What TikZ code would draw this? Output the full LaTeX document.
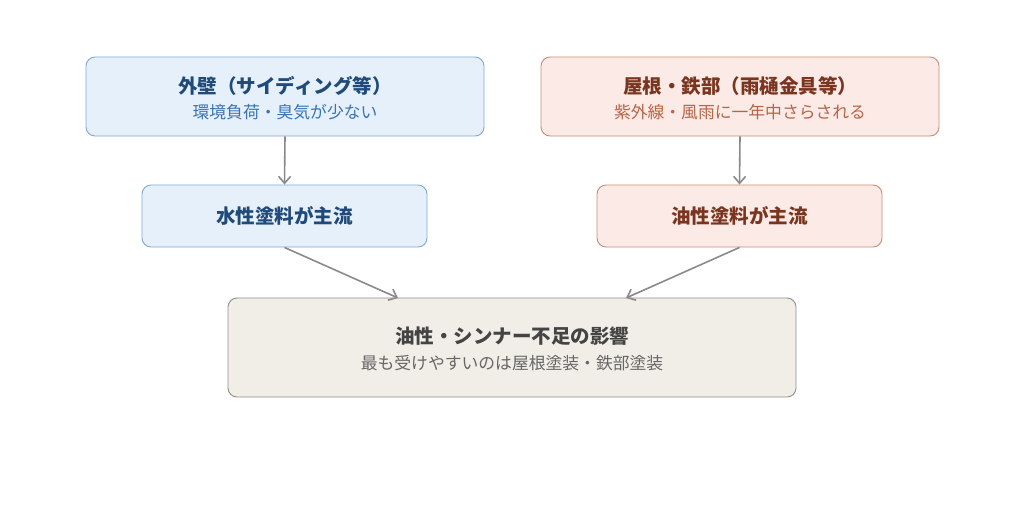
\documentclass[tikz,border=0pt]{standalone}
\usepackage{fontspec}
\setmainfont{Noto Sans CJK JP}
\usetikzlibrary{arrows.meta}
\definecolor{bluefill}{HTML}{E6F0FA}
\definecolor{blueline}{HTML}{80A9D6}
\definecolor{bluetitle}{HTML}{1F4A7A}
\definecolor{bluesub}{HTML}{3B73B2}
\definecolor{redfill}{HTML}{FBEAE5}
\definecolor{redline}{HTML}{C98B79}
\definecolor{redtitle}{HTML}{7A3520}
\definecolor{redsub}{HTML}{B5654A}
\definecolor{grayfill}{HTML}{F1EEE8}
\definecolor{grayline}{HTML}{8F8F8A}
\definecolor{graytitle}{HTML}{444444}
\definecolor{graysub}{HTML}{666666}
\definecolor{arrowc}{HTML}{8A8A8A}
\begin{document}
\begin{tikzpicture}[x=1pt,y=-1pt,
  box/.style={draw, rounded corners=9pt, line width=0.9pt, inner sep=0pt},
  bluebox/.style={box, fill=bluefill, draw=blueline},
  redbox/.style={box, fill=redfill, draw=redline},
  graybox/.style={box, fill=grayfill, draw=grayline},
  ttl/.style={font=\fontsize{19.5}{22}\selectfont\bfseries, inner sep=0pt},
  sub/.style={font=\fontsize{16.8}{20}\selectfont, inner sep=0pt},
  conn/.style={draw=arrowc, line width=1.6pt, -{Straight Barb[length=7pt,width=12pt,line width=1.6pt]}}
]
\useasboundingbox[fill=white] (0,0) rectangle (1024,512);
\node[bluebox, minimum width=398pt, minimum height=79pt] (wall) at (285,96.5) {};
\node[ttl, text=bluetitle] (wallt) at (285,86) {外壁（サイディング等）};
\node[sub, text=bluesub] (walls) at (285,112) {環境負荷・臭気が少ない};
\node[redbox, minimum width=398pt, minimum height=79pt] (roof) at (740,96.5) {};
\node[ttl, text=redtitle] (rooft) at (740,86) {屋根・鉄部（雨樋金具等）};
\node[sub, text=redsub] (roofs) at (740,112) {紫外線・風雨に一年中さらされる};
\node[bluebox, minimum width=285pt, minimum height=62pt] (water) at (284.5,216) {};
\node[ttl, text=bluetitle] (watert) at (284.5,216) {水性塗料が主流};
\node[redbox, minimum width=285pt, minimum height=62pt] (oil) at (739.5,216) {};
\node[ttl, text=redtitle] (oilt) at (739.5,216) {油性塗料が主流};
\node[graybox, minimum width=568pt, minimum height=99pt] (eff) at (512,347.5) {};
\node[ttl, text=graytitle] (efft) at (512,336) {油性・シンナー不足の影響};
\node[sub, text=graysub] (effs) at (512,363) {最も受けやすいのは屋根塗装・鉄部塗装};
\draw[conn] (wall.south) -- (water.north);
\draw[conn] (roof.south) -- (oil.north);
\draw[conn] (water.south) -- (398,298);
\draw[conn] (oil.south) -- (626,298);
\end{tikzpicture}
\end{document}
